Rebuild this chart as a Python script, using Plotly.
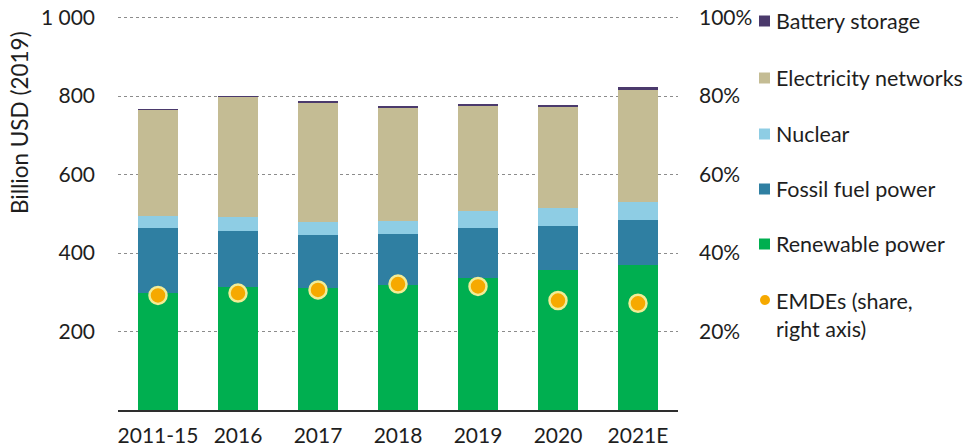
import plotly.graph_objects as go

# Power sector investment by technology, billion USD (2019)
categories = ["2011-15", "2016", "2017", "2018", "2019", "2020", "2021E"]
renewable_power = [298, 313, 310, 319, 336, 357, 370]
fossil_fuel_power = [165, 144, 135, 129, 127, 113, 115]
nuclear = [32, 34, 35, 34, 43, 44, 46]
electricity_networks = [270, 307, 303, 290, 269, 260, 286]
battery_storage = [1, 2, 2, 3, 3, 4, 5]
# Share of emerging market and developing economies (right axis, %)
emde_share = [29.2, 29.8, 30.6, 32.1, 31.5, 27.9, 27.2]

left_ticks = [200, 400, 600, 800, 1000]
left_tick_text = ["200", "400", "600", "800", "1 000"]
right_ticks = [20, 40, 60, 80, 100]
right_tick_text = ["20%", "40%", "60%", "80%", "100%"]
y_title = "Billion USD (2019)"

series = [
    ("Renewable power", renewable_power, "#00AF50"),
    ("Fossil fuel power", fossil_fuel_power, "#2F7FA2"),
    ("Nuclear", nuclear, "#8ECDE4"),
    ("Electricity networks", electricity_networks, "#C4BC94"),
    ("Battery storage", battery_storage, "#4B3A6C"),
]
emde_name = "EMDEs (share,<br>right axis)"
emde_color = "#F6A900"

FONT = "Lato"
TEXT = "#1e1e1e"

fig = go.Figure()
for name, values, color in series:
    fig.add_trace(go.Bar(
        x=categories, y=values, name=name,
        marker=dict(color=color, line=dict(width=0)),
        width=0.5, showlegend=False,
    ))

fig.add_trace(go.Scatter(
    x=categories, y=emde_share, yaxis="y2", mode="markers",
    name="EMDEs", showlegend=False,
    marker=dict(size=17, color=emde_color,
                line=dict(color="#F2EC96", width=2.5)),
))

W, H = 974, 447
L, R, T, B = 118, 296, 16, 37
pw, ph = W - L - R, H - T - B


def px(x):
    return (x - L) / pw


def py(y):
    return (H - B - y) / ph


# Legend: swatches and labels stacked to the right of the plot
legend_items = [
    ("Battery storage", "#4B3A6C", 21),
    ("Electricity networks", "#C4BC94", 78),
    ("Nuclear", "#8ECDE4", 134),
    ("Fossil fuel power", "#2F7FA2", 189),
    ("Renewable power", "#00AF50", 244),
]
shapes = []
annotations = []
for label, color, yc in legend_items:
    shapes.append(dict(type="rect", xref="paper", yref="paper",
                       x0=px(759), x1=px(770), y0=py(yc + 5.5), y1=py(yc - 5.5),
                       fillcolor=color, line=dict(width=0)))
    annotations.append(dict(text=label, xref="paper", yref="paper",
                            x=px(774), y=py(yc), xanchor="left", yanchor="middle",
                            showarrow=False, font=dict(family=FONT, size=21.5, color=TEXT)))
shapes.append(dict(type="circle", xref="paper", yref="paper",
                   x0=px(760), x1=px(770), y0=py(305), y1=py(295),
                   fillcolor=emde_color, line=dict(width=0)))
annotations.append(dict(text=emde_name, xref="paper", yref="paper",
                        x=px(774), y=py(286), xanchor="left", yanchor="top",
                        align="left", showarrow=False,
                        font=dict(family=FONT, size=21.5, color=TEXT)))

# Left axis title, set high along the axis
annotations.append(dict(text=y_title, xref="paper", yref="paper",
                        x=px(20), y=py(123), xanchor="center", yanchor="middle",
                        textangle=-90, showarrow=False,
                        font=dict(family=FONT, size=22.5, color=TEXT)))

fig.update_layout(
    width=W, height=H,
    margin=dict(l=L, r=R, t=T, b=B),
    paper_bgcolor="white", plot_bgcolor="white",
    barmode="stack",
    font=dict(family=FONT, size=21, color=TEXT),
    xaxis=dict(
        type="category", range=[-0.5, 6.5], automargin=False,
        showgrid=False, showline=True, linecolor="#2e2e2e", linewidth=1.5,
        ticks="", ticklabelstandoff=6,
        tickfont=dict(family=FONT, size=21, color=TEXT),
    ),
    yaxis=dict(
        range=[0, 1004], tickvals=left_ticks, ticktext=left_tick_text,
        automargin=False,
        showgrid=True, gridcolor="#8c8c8c", griddash="dot", gridwidth=1,
        zeroline=False, showline=False, ticks="", ticklabelstandoff=22,
        tickfont=dict(family=FONT, size=21, color=TEXT),
    ),
    yaxis2=dict(
        range=[0, 100.4], overlaying="y", side="right", automargin=False,
        tickvals=right_ticks, ticktext=right_tick_text,
        showgrid=False, zeroline=False, showline=False, ticks="",
        ticklabelstandoff=20,
        tickfont=dict(family=FONT, size=21, color=TEXT),
    ),
    shapes=shapes,
    annotations=annotations,
)

fig.write_html("out.html")
